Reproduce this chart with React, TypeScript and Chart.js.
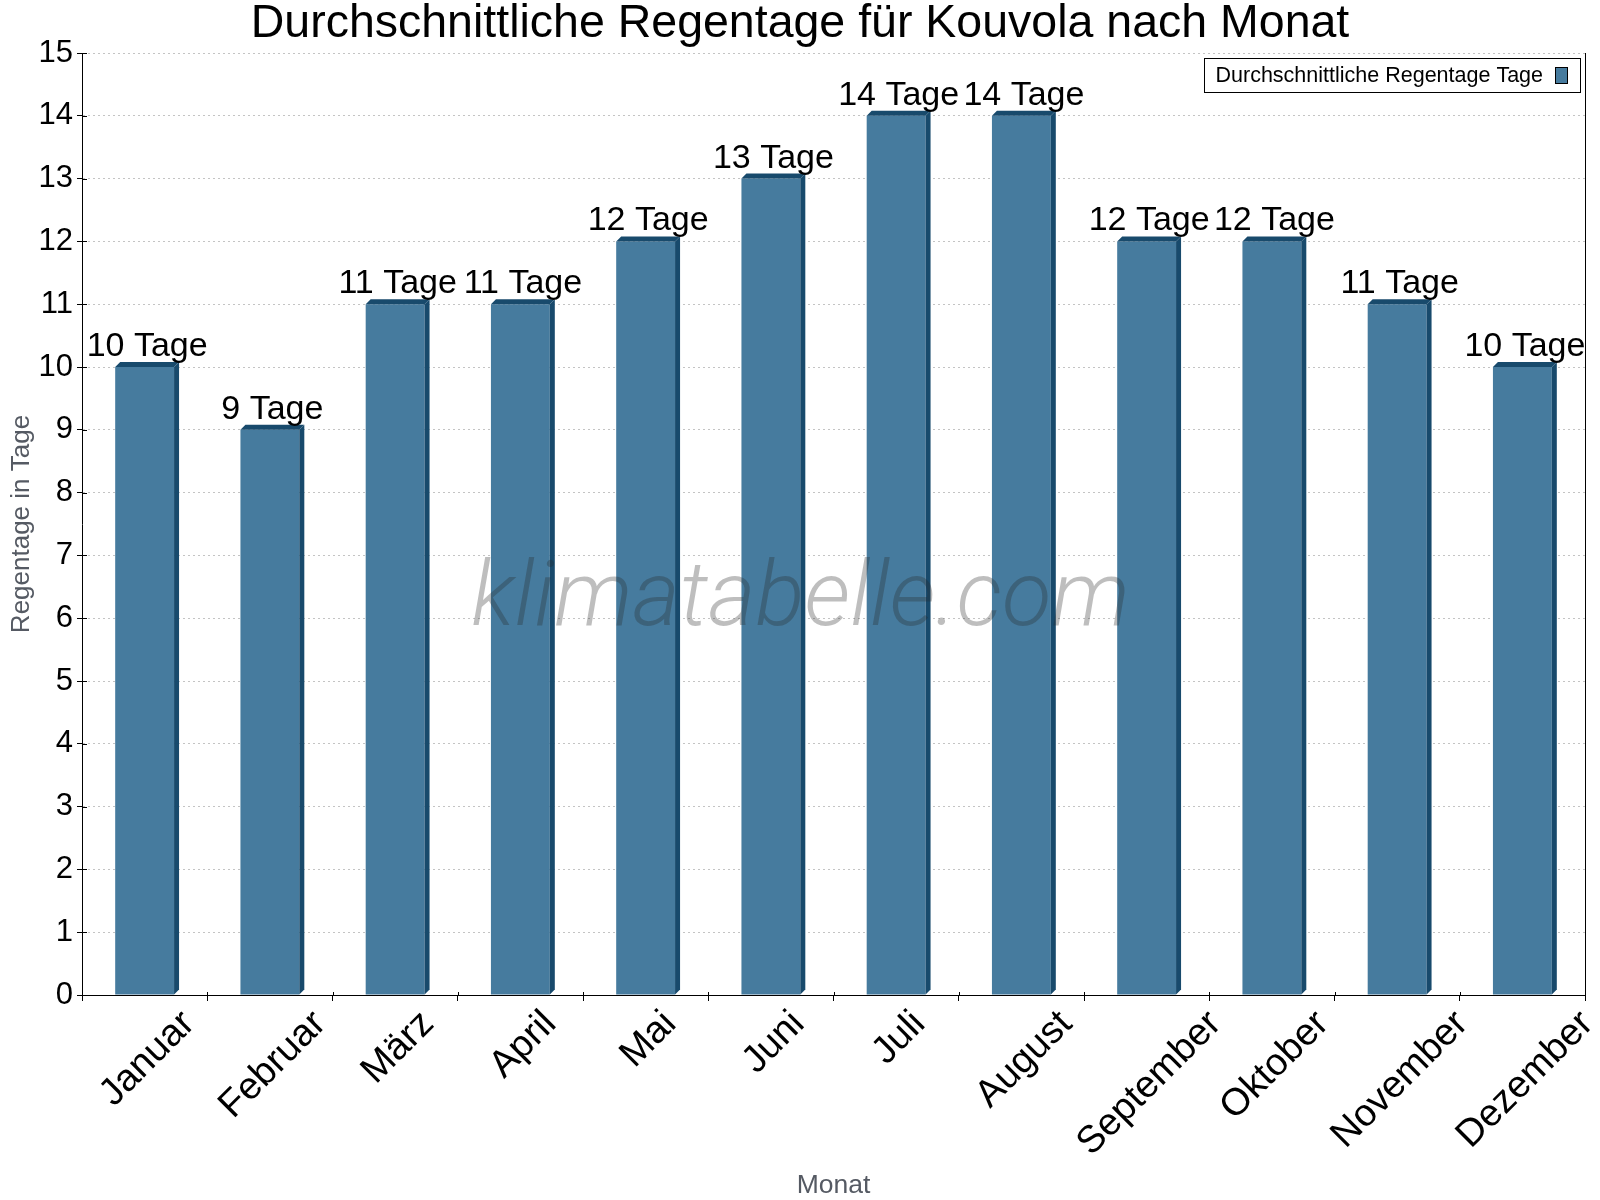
import { useEffect, useRef } from 'react';
import { Chart, registerables } from 'chart.js';

Chart.register(...registerables);

// Monthly average number of rainy days in Kouvola
const months = [
  'Januar', 'Februar', 'März', 'April', 'Mai', 'Juni',
  'Juli', 'August', 'September', 'Oktober', 'November', 'Dezember',
];
const rainDays = [10, 9, 11, 11, 12, 13, 14, 14, 12, 12, 11, 10];

const seriesLabel = 'Durchschnittliche Regentage Tage';
const valueSuffix = ' Tage';
const chartTitle = 'Durchschnittliche Regentage für Kouvola nach Monat';
const yAxisTitle = 'Regentage in Tage';
const xAxisTitle = 'Monat';
const watermarkText = 'klimatabelle.com';
const yMin = 0;
const yMax = 15;

const FONT = '"Liberation Sans", Arial, Helvetica, sans-serif';
const FRONT = '#467b9e';
const SIDE = '#184a6c';
const DEPTH = 5;

// Extruded side and top faces so the bars look three-dimensional
const bar3dPlugin = {
  id: 'bar3d',
  afterDatasetsDraw(chart: any) {
    const ctx = chart.ctx;
    const meta = chart.getDatasetMeta(0);
    ctx.save();
    ctx.fillStyle = SIDE;
    meta.data.forEach((bar: any) => {
      const { x, y, base, width } = bar.getProps(['x', 'y', 'base', 'width'], true);
      const l = x - width / 2;
      const r = x + width / 2;
      ctx.beginPath();
      ctx.moveTo(r, y);
      ctx.lineTo(r + DEPTH, y - DEPTH);
      ctx.lineTo(r + DEPTH, base - DEPTH);
      ctx.lineTo(r, base);
      ctx.closePath();
      ctx.fill();
      ctx.beginPath();
      ctx.moveTo(l, y);
      ctx.lineTo(l + DEPTH, y - DEPTH);
      ctx.lineTo(r + DEPTH, y - DEPTH);
      ctx.lineTo(r, y);
      ctx.closePath();
      ctx.fill();
    });
    ctx.restore();
  },
};

// Faint site name across the plot
const watermarkPlugin = {
  id: 'watermark',
  afterDatasetsDraw(chart: any) {
    const ctx = chart.ctx;
    const a = chart.chartArea;
    ctx.save();
    ctx.font = `italic 300 91px Roboto, ${FONT}`;
    ctx.fillStyle = 'rgba(40,40,40,0.3)';
    ctx.textAlign = 'center';
    ctx.textBaseline = 'alphabetic';
    ctx.fillText(watermarkText, (a.left + a.right) / 2 - 33, 625);
    ctx.restore();
  },
};

// Value labels above each bar
const valueLabelPlugin = {
  id: 'valueLabels',
  afterDatasetsDraw(chart: any) {
    const ctx = chart.ctx;
    const meta = chart.getDatasetMeta(0);
    const values = chart.data.datasets[0].data;
    ctx.save();
    ctx.font = `34px ${FONT}`;
    ctx.fillStyle = '#000';
    ctx.textAlign = 'center';
    ctx.textBaseline = 'alphabetic';
    meta.data.forEach((bar: any, i: number) => {
      const { x, y } = bar.getProps(['x', 'y'], true);
      ctx.fillText(`${values[i]}${valueSuffix}`, x + DEPTH / 2, y - 11);
    });
    ctx.restore();
  },
};

// Month names at 45°, each label centred horizontally on its category
const monthLabelPlugin = {
  id: 'monthLabels',
  afterDraw(chart: any) {
    const ctx = chart.ctx;
    const xs = chart.scales.x;
    const labels = chart.data.labels;
    ctx.save();
    ctx.font = `38px ${FONT}`;
    ctx.fillStyle = '#000';
    ctx.textAlign = 'right';
    ctx.textBaseline = 'middle';
    labels.forEach((lab: string, i: number) => {
      const tx = xs.getPixelForTick(i);
      const w = ctx.measureText(lab).width;
      const ax = tx + (w / 2) * Math.SQRT1_2 + 3;
      const ay = xs.top + 23;
      ctx.save();
      ctx.translate(ax, ay);
      ctx.rotate(-Math.PI / 4);
      ctx.fillText(lab, 0, 0);
      ctx.restore();
    });
    ctx.restore();
  },
};

// Right frame line, inner halves of the axis ticks, and the boxed legend
const framePlugin = {
  id: 'frame',
  afterDraw(chart: any) {
    const ctx = chart.ctx;
    const a = chart.chartArea;
    const xs = chart.scales.x;
    const ys = chart.scales.y;
    ctx.save();
    ctx.strokeStyle = '#000';
    ctx.lineWidth = 1;
    ctx.beginPath();
    const rx = Math.round(a.right) + 0.5;
    ctx.moveTo(rx, a.top);
    ctx.lineTo(rx, a.bottom);
    for (let i = 0; i <= chart.data.labels.length; i++) {
      const bx = Math.round(xs.getPixelForValue(i - 0.5)) + 0.5;
      ctx.moveTo(bx, a.bottom - 3);
      ctx.lineTo(bx, a.bottom);
    }
    for (let v = yMin; v <= yMax; v++) {
      const py = Math.round(ys.getPixelForValue(v)) + 0.5;
      ctx.moveTo(a.left, py);
      ctx.lineTo(a.left + 5, py);
    }
    ctx.stroke();

    const label = chart.data.datasets[0].label;
    ctx.font = `21.5px ${FONT}`;
    const tw = ctx.measureText(label).width;
    const boxRight = Math.round(a.right) - 5;
    const boxTop = Math.round(a.top) + 5;
    const boxH = 34;
    const swW = 13;
    const swH = 17;
    const swX = boxRight - 12 - swW;
    const textRight = swX - 12;
    const boxLeft = Math.round(textRight - tw - 12);
    ctx.fillStyle = '#fff';
    ctx.fillRect(boxLeft, boxTop, boxRight - boxLeft, boxH);
    ctx.strokeRect(boxLeft + 0.5, boxTop + 0.5, boxRight - boxLeft, boxH);
    ctx.fillStyle = '#000';
    ctx.textAlign = 'left';
    ctx.textBaseline = 'middle';
    ctx.fillText(label, textRight - tw, boxTop + boxH / 2 + 1);
    ctx.fillStyle = FRONT;
    ctx.fillRect(swX, boxTop + 9, swW, swH);
    ctx.strokeRect(swX + 0.5, boxTop + 9.5, swW - 1, swH - 1);
    ctx.restore();
  },
};

export default function App() {
  const canvasRef = useRef<HTMLCanvasElement | null>(null);

  useEffect(() => {
    const canvas = canvasRef.current;
    if (!canvas) return;
    const chart = new Chart(canvas, {
      type: 'bar',
      data: {
        labels: months,
        datasets: [
          {
            label: seriesLabel,
            data: rainDays,
            backgroundColor: FRONT,
            borderWidth: 0,
            categoryPercentage: 1,
            barPercentage: 0.47,
          },
        ],
      },
      options: {
        responsive: false,
        animation: false,
        layout: { padding: { left: 15, right: 15, top: 0, bottom: 0 } },
        plugins: {
          legend: { display: false },
          tooltip: { enabled: false },
          title: {
            display: true,
            text: chartTitle,
            color: '#000',
            font: { family: FONT, size: 46.5, weight: 'normal', lineHeight: 1 },
            padding: { top: 1, bottom: 5.5 },
          },
        },
        scales: {
          x: {
            offset: true,
            afterFit: (s: any) => { s.height = 205; },
            grid: {
              offset: true,
              drawOnChartArea: false,
              drawTicks: true,
              tickLength: 6,
              tickColor: '#000',
              tickBorderDash: [],
            },
            border: { display: true, color: '#000', width: 1 },
            ticks: { display: false, autoSkip: false },
            title: {
              display: true,
              text: xAxisTitle,
              color: '#555a63',
              font: { family: FONT, size: 26.5 },
              padding: { top: 0, bottom: -2 },
            },
          },
          y: {
            min: yMin,
            max: yMax,
            afterFit: (s: any) => { s.width = 67; },
            grid: {
              color: '#c4c4c4',
              lineWidth: 1,
              drawTicks: true,
              tickLength: 5,
              tickColor: '#000',
              tickBorderDash: [],
            },
            border: { display: true, color: '#000', width: 1, dash: [2, 3] },
            ticks: {
              stepSize: 1,
              color: '#000',
              font: { family: FONT, size: 31 },
              padding: 4,
            },
            title: {
              display: true,
              text: yAxisTitle,
              color: '#555a63',
              font: { family: FONT, size: 26 },
              padding: { top: -9, bottom: 0 },
            },
          },
        },
      },
      plugins: [bar3dPlugin, watermarkPlugin, valueLabelPlugin, monthLabelPlugin, framePlugin],
    } as any);
    return () => chart.destroy();
  }, []);

  return (
    <div style={{ position: 'absolute', left: 0, top: 0, width: 1600, height: 1200, background: '#fff' }}>
      <canvas ref={canvasRef} width={1600} height={1200} />
    </div>
  );
}
